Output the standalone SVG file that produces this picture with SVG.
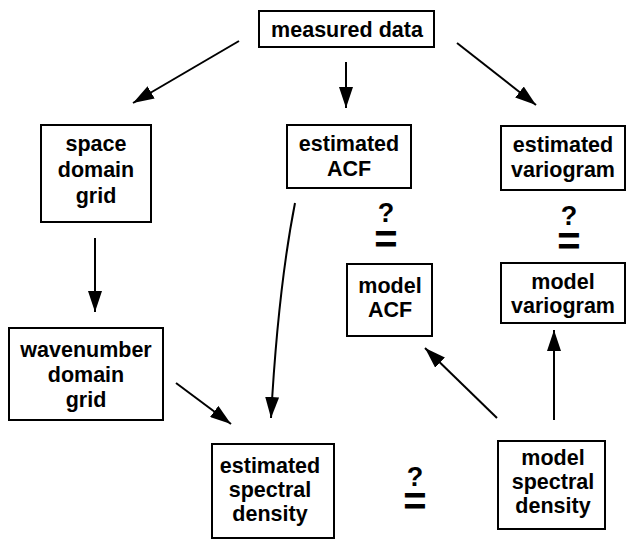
<svg xmlns="http://www.w3.org/2000/svg" width="626" height="540" viewBox="0 0 626 540">
  <defs>
    <marker id="arrow" markerUnits="userSpaceOnUse" markerWidth="22" markerHeight="14" viewBox="0 0 22 14" refX="21" refY="7" orient="auto">
      <path d="M0,0 L21,7 L0,14 Z" fill="#000"/>
    </marker>
  </defs>
  <style>
    .box { fill: #fff; stroke: #000; stroke-width: 2; }
    .lbl { font-family: "Liberation Sans", Arial, sans-serif; font-weight: bold; font-size: 21.5px; text-anchor: middle; fill: #000; }
    .q { font-family: "Liberation Sans", Arial, sans-serif; font-weight: bold; font-size: 27px; text-anchor: middle; fill: #000; }
    .eq { font-size: 40px; }
    .conn { fill: none; stroke: #000; stroke-width: 2; marker-end: url(#arrow); }
  </style>
  <rect width="626" height="540" fill="#fff"/>

  <g id="connectors">
    <line class="conn" x1="239" y1="41" x2="133" y2="103"/>
    <line class="conn" x1="346" y1="62" x2="346" y2="108"/>
    <line class="conn" x1="457" y1="43" x2="536" y2="105"/>
    <line class="conn" x1="95" y1="238" x2="95" y2="312"/>
    <path class="conn" d="M295,203 Q278,290 271,418"/>
    <line class="conn" x1="176" y1="383" x2="231" y2="424"/>
    <line class="conn" x1="497" y1="418" x2="425" y2="348"/>
    <line class="conn" x1="554" y1="420" x2="554" y2="330"/>
  </g>

  <g id="measured-data">
    <rect class="box" x="259" y="11" width="175" height="36"/>
    <text class="lbl" x="347" y="37">measured data</text>
  </g>

  <g id="space-domain-grid">
    <rect class="box" x="41" y="125" width="110" height="97"/>
    <text class="lbl" x="96" y="151">space</text>
    <text class="lbl" x="96" y="177">domain</text>
    <text class="lbl" x="96" y="203">grid</text>
  </g>

  <g id="estimated-acf">
    <rect class="box" x="287" y="125" width="124" height="63"/>
    <text class="lbl" x="349" y="151">estimated</text>
    <text class="lbl" x="349" y="176">ACF</text>
  </g>

  <g id="estimated-variogram">
    <rect class="box" x="501" y="126" width="124" height="64"/>
    <text class="lbl" x="563" y="152">estimated</text>
    <text class="lbl" x="563" y="177">variogram</text>
  </g>

  <!-- "?" over "=" : the equality still to be tested -->
  <g id="acf-comparison">
    <text class="q" x="386" y="222">?<tspan class="eq" x="386" y="253">=</tspan></text>
  </g>

  <g id="variogram-comparison">
    <text class="q" x="569" y="225">?<tspan class="eq" x="569" y="255">=</tspan></text>
  </g>

  <g id="model-acf">
    <rect class="box" x="347" y="264" width="85" height="72"/>
    <text class="lbl" x="390" y="293">model</text>
    <text class="lbl" x="390" y="317">ACF</text>
  </g>

  <g id="model-variogram">
    <rect class="box" x="501" y="263" width="124" height="60"/>
    <text class="lbl" x="563" y="289">model</text>
    <text class="lbl" x="563" y="313">variogram</text>
  </g>

  <g id="wavenumber-domain-grid">
    <rect class="box" x="9" y="328" width="154" height="92"/>
    <text class="lbl" x="86" y="357">wavenumber</text>
    <text class="lbl" x="86" y="382">domain</text>
    <text class="lbl" x="86" y="407">grid</text>
  </g>

  <g id="estimated-spectral-density">
    <rect class="box" x="212" y="444" width="122" height="94"/>
    <text class="lbl" x="270" y="473">estimated</text>
    <text class="lbl" x="270" y="497">spectral</text>
    <text class="lbl" x="270" y="521">density</text>
  </g>

  <g id="spectral-comparison">
    <text class="q" x="415" y="486">?<tspan class="eq" x="415" y="515">=</tspan></text>
  </g>

  <g id="model-spectral-density">
    <rect class="box" x="498" y="441" width="107" height="88"/>
    <text class="lbl" x="553" y="465">model</text>
    <text class="lbl" x="553" y="489">spectral</text>
    <text class="lbl" x="553" y="513">density</text>
  </g>
</svg>
